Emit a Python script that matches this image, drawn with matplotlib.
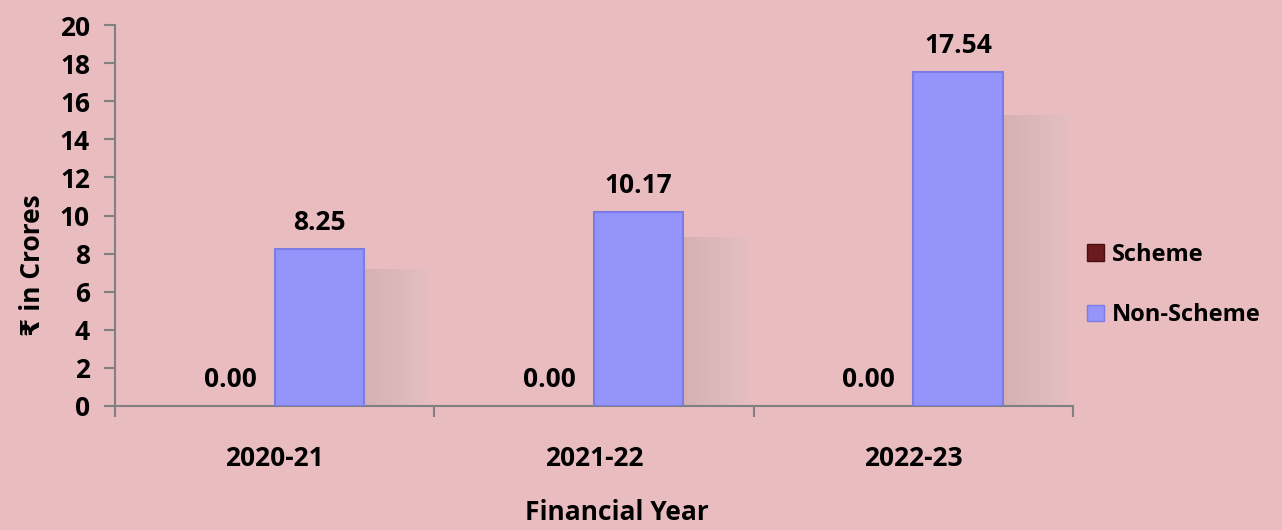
import matplotlib.pyplot as plt
import numpy as np
from matplotlib.patches import Patch

years = ['2020-21', '2021-22', '2022-23']
scheme = [0.00, 0.00, 0.00]
non_scheme = [8.25, 10.17, 17.54]

plt.rcParams['font.family'] = ['Open Sans', 'DejaVu Sans']
plt.rcParams['font.weight'] = 'bold'

bg = '#E9BCC0'
c_scheme = '#6B1A1E'
c_non = '#9494FA'
w = 0.28
fs = 19

fig = plt.figure(figsize=(12.82, 5.30), dpi=100, facecolor=bg)
ax = fig.add_axes([115/1282, 1-406/530, (1073-115)/1282, (406-25)/530])
ax.set_facecolor('none')

x = np.arange(len(years))

# soft shadows to the right of the non-scheme bars
grad = np.linspace(1, 0, 64).reshape(1, -1)
for xi, v in zip(x, non_scheme):
    ax.imshow(grad, cmap='Greys', vmin=-1.5, vmax=3.0, alpha=0.2,
              extent=[xi + w, xi + w + 0.2, 0, v * 0.87],
              aspect='auto', zorder=1)

ax.bar(x - w, scheme, w, align='edge', color=c_scheme, zorder=2)
ax.bar(x, non_scheme, w, align='edge', color=c_non,
       edgecolor='#7C7CE6', linewidth=1.5, zorder=3)

for xi, s, n in zip(x, scheme, non_scheme):
    ax.text(xi - w/2, s + 0.7, f'{s:.2f}', ha='center', va='bottom',
            fontsize=fs, fontweight='bold')
    ax.text(xi + w/2, n + 0.7, f'{n:.2f}', ha='center', va='bottom',
            fontsize=fs, fontweight='bold')

ax.set_xlim(-0.5, 2.5)
ax.set_ylim(0, 20)
ax.set_yticks(range(0, 21, 2))
ax.set_xticks(x)
ax.set_xticklabels(years)
ax.set_xticks([-0.5, 0.5, 1.5, 2.5], minor=True)
ax.tick_params(axis='x', which='major', length=0, pad=28, labelsize=fs)
ax.tick_params(axis='x', which='minor', length=8, color='#808080', width=1.5)
ax.tick_params(axis='y', length=8, color='#808080', width=1.5, pad=10, labelsize=fs)

for side in ['top', 'right']:
    ax.spines[side].set_visible(False)
for side in ['left', 'bottom']:
    ax.spines[side].set_color('#808080')
    ax.spines[side].set_linewidth(1.5)

ax.set_ylabel('₹ in Crores', fontsize=19, fontweight='bold')
ax.yaxis.set_label_coords(-0.072, 0.37)
ax.set_xlabel('Financial Year', fontsize=19, fontweight='bold')
ax.xaxis.set_label_coords(0.524, -0.245)

handles = [Patch(facecolor=c_scheme, edgecolor='#4A0F12'),
           Patch(facecolor=c_non, edgecolor='#7C7CE6')]
fig.legend(handles, ['Scheme', 'Non-Scheme'], loc='center left',
           bbox_to_anchor=(1066/1282, 1-285/530), frameon=False,
           fontsize=17, labelspacing=1.55, handlelength=0.7, handleheight=0.7,
           handletextpad=0.35)

fig.savefig('out.png', dpi=100, facecolor=bg)
